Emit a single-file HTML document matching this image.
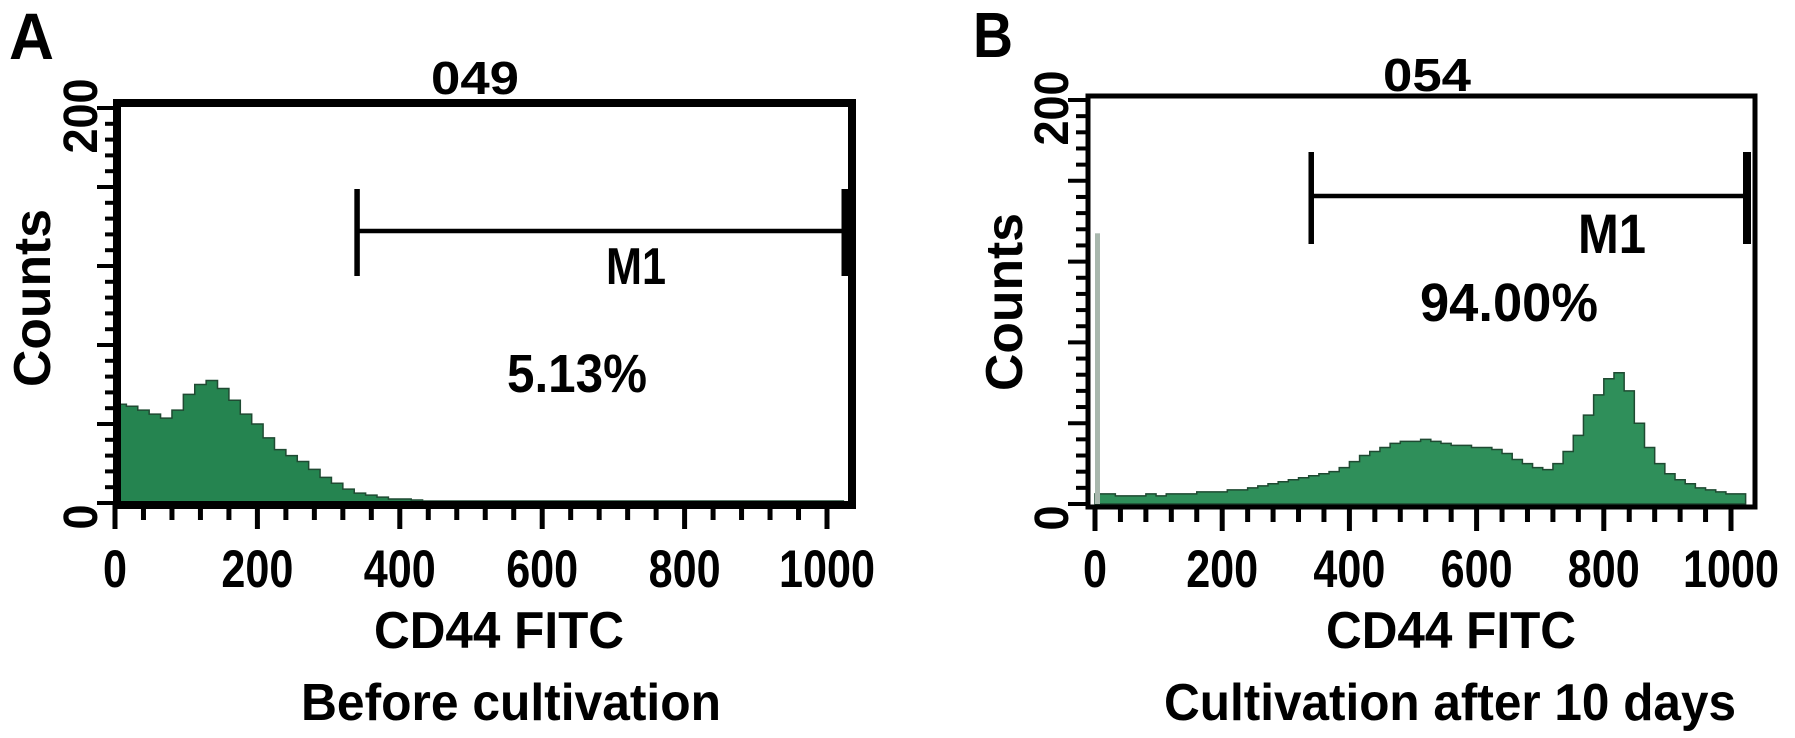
<!DOCTYPE html>
<html><head><meta charset="utf-8"><style>
html,body{margin:0;padding:0;background:#fff;}
svg{display:block;}
text{font-family:"Liberation Sans",Arial,sans-serif;font-weight:bold;fill:#000;}
</style></head><body>
<svg id="fig" width="1795" height="738" viewBox="0 0 1795 738" xmlns="http://www.w3.org/2000/svg">
<rect x="0" y="0" width="1795" height="738" fill="#fff"/>
<g id="pA"></g>
<g id="pB"></g>
</svg>
<script>
// ---- data ----
const binWidth = 16;
const xTickValues = [0, 200, 400, 600, 800, 1000];
const xTickLabels = ["0", "200", "400", "600", "800", "1000"];
const yTickLabels = ["0", "200"];
const countsA = [50,49,47,45,43,47,55,60,62,58,52,45,40,33,27,24,21,17,13,10,7,5,4,3,2,2,1.5,1,1,1,1,1,1,1,1,1,1,1,1,1,1,1,1,1,1,1,1,1,1,1,1,1,1,1,1,1,1,1,1,1,1,1,1,1];
const spikeA = 122;
const countsB = [5,5,4,4,4,5,4,5,5,5,6,6,6,7,7,8,9,10,11,12,13,14,15,16,18,21,24,26,28,30,31,31,32,31,30,29,29,28,28,27,25,22,20,18,17,20,26,34,44,54,62,65,56,40,28,20,15,12,10,8,7,6,5,5];
const spikeB = 134;
const gateA = [340, 1023];
const gateB = [340, 1023];

const NS = "http://www.w3.org/2000/svg";
function mk(parent, tag, attrs, txt){
  const e = document.createElementNS(NS, tag);
  for (const k in attrs) e.setAttribute(k, attrs[k]);
  if (txt !== undefined) e.textContent = txt;
  parent.appendChild(e);
  return e;
}

function drawPanel(g, cfg){
  const xs = v => cfg.x0 + v * cfg.xk;
  const ys = c => cfg.yb - c * cfg.yk;
  let d = "M" + xs(0) + "," + ys(0);
  cfg.counts.forEach((c, i) => {
    const a = i * binWidth, b = (i + 1) * binWidth;
    d += " L" + xs(a) + "," + ys(c) + " L" + xs(Math.min(b, 1023)) + "," + ys(c);
  });
  d += " L" + xs(1023) + "," + ys(0) + " Z";
  const h = mk(g, "path", {d: d, fill: cfg.fill, stroke: "#1f4a32", "stroke-width": 1.5});
  
  
  const sp = mk(g, "rect", {x: xs(0), y: ys(cfg.spike), width: 5, height: ys(0) - ys(cfg.spike), fill: cfg.spikeFill});
  
  
  const fr = mk(g, "rect", {x: cfg.L, y: cfg.T, width: cfg.R - cfg.L, height: cfg.B - cfg.T, fill: "none", stroke: "#000", "stroke-width": cfg.bw});
  
  
  for (let c = 0; c <= 200; c += 8){
    const major = c % 40 === 0;
    const t = mk(g, "line", {x1: cfg.L - (major ? 20 : 12), x2: cfg.L, y1: ys(c), y2: ys(c), stroke: "#000", "stroke-width": 4});
    
    
  }
  for (let v = 0; v <= 1000; v += 40){
    const major = v % 200 === 0;
    const t = mk(g, "line", {x1: xs(v), x2: xs(v), y1: cfg.B, y2: cfg.B + (major ? 24 : 15), stroke: "#000", "stroke-width": 5});
    
    
  }
  xTickValues.forEach((v, i) => {
    const lab = xTickLabels[i];
    const t = mk(g, "text", {x: xs(v), y: 587, "font-size": 53, "text-anchor": "middle", textLength: lab.length * 24, lengthAdjust: "spacingAndGlyphs"}, lab);
    
    
  });
  [[0, yTickLabels[0]], [200, yTickLabels[1]]].forEach(([c, lab]) => {
    const cy = c === 0 ? cfg.yb + 14 : ys(c) + 8;
    const t = mk(g, "text", {x: 0, y: 0, "font-size": 48, "text-anchor": "middle", textLength: lab.length * 25, lengthAdjust: "spacingAndGlyphs", transform: "translate(" + cfg.ylx + "," + cy + ") rotate(-90)"}, lab);
    
    
  });
  const ct = mk(g, "text", {x: 0, y: 0, "font-size": 52, "text-anchor": "middle", textLength: 178, lengthAdjust: "spacingAndGlyphs", transform: "translate(" + cfg.cx + "," + cfg.cy + ") rotate(-90)"}, "Counts");
  
  
  const gy = cfg.gy, g1 = xs(cfg.gate[0]);
  const gl = mk(g, "line", {x1: g1, x2: cfg.gx2, y1: gy, y2: gy, stroke: "#000", "stroke-width": 4.5});
  
  
  const ge1 = mk(g, "line", {x1: g1, x2: g1, y1: cfg.gt, y2: cfg.gb, stroke: "#000", "stroke-width": 5.5});
  
  
  const ge2 = mk(g, "line", {x1: cfg.gx2, x2: cfg.gx2, y1: cfg.gt, y2: cfg.gb, stroke: "#000", "stroke-width": cfg.gw});
  
  
  cfg.texts.forEach(tx => {
    const t = mk(g, "text", {x: tx[0], y: tx[1], "font-size": tx[2], textLength: tx[3], lengthAdjust: "spacingAndGlyphs"}, tx[4]);
    
    
  });
}

drawPanel(document.getElementById('pA'), {
  x0: 115, xk: 0.712, yb: 503, yk: 1.975, counts: countsA, spike: spikeA, fill: "#258450", spikeFill: "#2c4a38",
  L: 117, T: 103, R: 852, B: 505, bw: 8, ylx: 97, cx: 50, cy: 298,
  gate: gateA, gy: 231, gt: 189, gb: 276, gx2: 847, gw: 11,
  texts: [
    [9, 59, 66, 45, "A", "panel-letter-a"],
    [431, 94, 46, 88, "049", "sample-title"],
    [606, 284, 52, 60, "M1", "gate-label"],
    [507, 392, 54, 140, "5.13%", "gate-percentage"],
    [374, 648, 52, 250, "CD44 FITC", "x-axis-title"],
    [301, 720, 52, 420, "Before cultivation", "condition-caption"]
  ]
});
drawPanel(document.getElementById('pB'), {
  x0: 1095, xk: 0.636, yb: 504, yk: 2.02, counts: countsB, spike: spikeB, fill: "#2f8f5a", spikeFill: "#a9b8ae",
  L: 1088, T: 96, R: 1755, B: 507, bw: 5, ylx: 1068, cx: 1022, cy: 302,
  gate: gateB, gy: 196, gt: 152, gb: 244, gx2: 1747, gw: 8,
  texts: [
    [973, 57, 64, 40, "B", "panel-letter-b"],
    [1383, 91, 46, 88, "054", "sample-title"],
    [1578, 253, 56, 68, "M1", "gate-label"],
    [1420, 321, 54, 178, "94.00%", "gate-percentage"],
    [1326, 648, 52, 250, "CD44 FITC", "x-axis-title"],
    [1164, 720, 52, 572, "Cultivation after 10 days", "condition-caption"]
  ]
});
</script>
</body></html>
